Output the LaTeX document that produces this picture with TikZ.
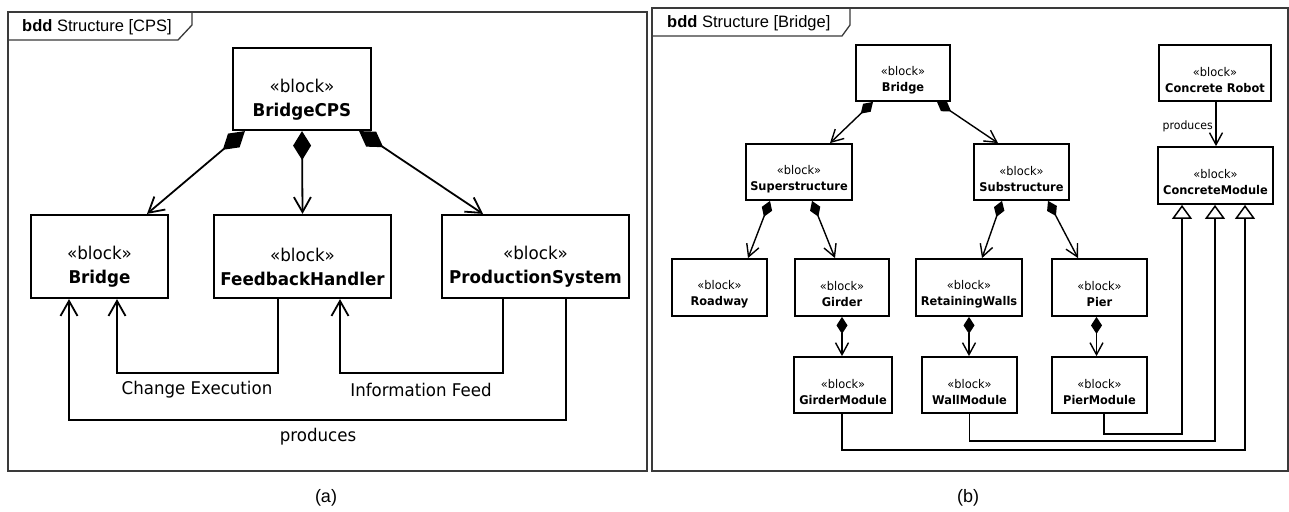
\documentclass[tikz,border=0pt]{standalone}
\usepackage{fontspec}
\setmainfont{DejaVu Sans}
\newfontfamily\blkfont[FakeStretch=0.95]{DejaVu Sans}
\newfontfamily\arialfont{Liberation Sans}
\usetikzlibrary{arrows.meta}
\definecolor{framegray}{HTML}{3A3A3A}
\tikzset{
  frameline/.style={draw=framegray, line width=1.3pt},
  titletext/.style={font=\arialfont\fontsize{16.5}{20}\selectfont, anchor=west, inner sep=0},
  captiontext/.style={font=\arialfont\fontsize{18}{22}\selectfont, inner sep=0},
  boxA/.style={draw, line width=2.2pt, inner sep=0, fill=white},
  boxB/.style={draw, line width=1.8pt, inner sep=0, fill=white},
  txtA/.style={font=\blkfont\fontsize{17.6}{24}\selectfont, align=center, inner sep=0},
  txtB/.style={font=\blkfont\fontsize{12}{16}\selectfont, align=center, inner sep=0},
  lblA/.style={font=\blkfont\fontsize{17.5}{20}\selectfont, inner sep=0},
  lblB/.style={font=\blkfont\fontsize{11.5}{14}\selectfont, inner sep=0},
  compA/.style={line width=1.8pt, {Diamond[length=29pt,width=18pt]}-{Straight Barb[length=15pt,width=17pt]}},
  navA/.style={line width=1.8pt, -{Straight Barb[length=15pt,width=17pt]}},
  compB/.style={line width=1.4pt, {Diamond[length=17pt,width=11pt]}-{Straight Barb[length=12pt,width=13pt]}},
  navB/.style={line width=1.4pt, -{Straight Barb[length=12pt,width=13pt]}},
  genB/.style={line width=1.5pt, -{Triangle[open,length=14pt,width=20pt]}},
}
\begin{document}
\begin{tikzpicture}[x=1pt,y=-1pt]
\useasboundingbox (0,0) rectangle (1289,511);
\fill[white] (0,0) rectangle (1289,511);

% ---------------- Panel (a) ----------------
\draw[frameline] (8,12) rectangle (647,471);
\draw[frameline] (8,40) -- (178,40) -- (192,25) -- (192,12);
\node[titletext] (titleA) at (22,27) {\textbf{bdd} Structure [CPS]};

\node[boxA, minimum width=138pt, minimum height=82pt] (cps) at (302,89) {};
\node[txtA] (cpsT) at ([yshift=-11pt]cps.center) {«block»\\\textbf{BridgeCPS}};

\node[boxA, minimum width=137pt, minimum height=83pt] (bridgeA) at (99.5,256.5) {};
\node[txtA] (bridgeAT) at ([yshift=-10pt]bridgeA.center) {«block»\\\textbf{Bridge}};

\node[boxA, minimum width=177pt, minimum height=83pt] (fh) at (302.5,256.5) {};
\node[txtA] (fhT) at ([yshift=-10pt]fh.center) {«block»\\\textbf{FeedbackHandler}};

\node[boxA, minimum width=187pt, minimum height=83pt] (ps) at (535.5,256.5) {};
\node[txtA] (psT) at ([yshift=-10pt]ps.center) {«block»\\\textbf{ProductionSystem}};

\draw[compA] ([xshift=13pt]cps.south west) -- ([xshift=47.5pt]bridgeA.north);
\draw[compA] (cps.south) -- (fh.north);
\draw[compA] ([xshift=-13pt]cps.south east) -- ([xshift=-52.5pt]ps.north);

\draw[navA] ([xshift=-24.5pt]fh.south) -- ++(0,74) -| ([xshift=17.5pt]bridgeA.south);
\draw[navA] ([xshift=-32.5pt]ps.south) -- ++(0,74) -| ([xshift=37.5pt]fh.south);
\draw[navA] ([xshift=30.5pt]ps.south) -- ++(0,121) -| ([xshift=-30.5pt]bridgeA.south);

\node[lblA] (lblCE) at (197,390) {Change Execution};
\node[lblA] (lblIF) at (421,390) {Information Feed};
\node[lblA] (lblPA) at (318,437) {produces};

\node[captiontext] (capA) at (326,498) {(a)};

% ---------------- Panel (b) ----------------
\draw[frameline] (652,8) rectangle (1288,471);
\draw[frameline] (652,36) -- (842,36) -- (850,25) -- (850,8);
\node[titletext] (titleB) at (667,23) {\textbf{bdd} Structure [Bridge]};

\node[boxB, minimum width=94pt, minimum height=56pt] (bridgeB) at (903,73) {};
\node[txtB] (bridgeBT) at ([yshift=-7pt]bridgeB.center) {«block»\\\textbf{Bridge}};

\node[boxB, minimum width=106pt, minimum height=56pt] (sup) at (799,172) {};
\node[txtB] (supT) at ([yshift=-7pt]sup.center) {«block»\\\textbf{Superstructure}};

\node[boxB, minimum width=95pt, minimum height=56pt] (sub) at (1021.5,172) {};
\node[txtB] (subT) at ([yshift=-7pt]sub.center) {«block»\\\textbf{Substructure}};

\node[boxB, minimum width=112pt, minimum height=56pt] (robot) at (1215,73) {};
\node[txtB] (robotT) at ([yshift=-7pt]robot.center) {«block»\\\textbf{Concrete Robot}};

\node[boxB, minimum width=115pt, minimum height=57pt] (cm) at (1215.5,175.5) {};
\node[txtB] (cmT) at ([yshift=-7pt]cm.center) {«block»\\\textbf{ConcreteModule}};

\node[boxB, minimum width=95pt, minimum height=57pt] (road) at (719.5,287.5) {};
\node[txtB] (roadT) at ([yshift=-7pt]road.center) {«block»\\\textbf{Roadway}};

\node[boxB, minimum width=94pt, minimum height=57pt] (girder) at (842,287.5) {};
\node[txtB] (girderT) at ([yshift=-7pt]girder.center) {«block»\\\textbf{Girder}};

\node[boxB, minimum width=106pt, minimum height=57pt] (rw) at (969,287.5) {};
\node[txtB] (rwT) at ([yshift=-7pt]rw.center) {«block»\\\textbf{RetainingWalls}};

\node[boxB, minimum width=95pt, minimum height=57pt] (pier) at (1099.5,287.5) {};
\node[txtB] (pierT) at ([yshift=-7pt]pier.center) {«block»\\\textbf{Pier}};

\node[boxB, minimum width=98pt, minimum height=56pt] (gm) at (843,385) {};
\node[txtB] (gmT) at ([yshift=-7pt]gm.center) {«block»\\\textbf{GirderModule}};

\node[boxB, minimum width=95pt, minimum height=56pt] (wm) at (969.5,385) {};
\node[txtB] (wmT) at ([yshift=-7pt]wm.center) {«block»\\\textbf{WallModule}};

\node[boxB, minimum width=95pt, minimum height=56pt] (pm) at (1099.5,385) {};
\node[txtB] (pmT) at ([yshift=-7pt]pm.center) {«block»\\\textbf{PierModule}};

% compositions
\draw[compB] ([xshift=-30pt]bridgeB.south) -- ([xshift=31pt]sup.north);
\draw[compB] ([xshift=34pt]bridgeB.south) -- ([xshift=-23.5pt]sub.north);
\draw[compB] ([xshift=-29pt]sup.south) -- ([xshift=28.5pt]road.north);
\draw[compB] ([xshift=13pt]sup.south) -- ([xshift=-7pt]girder.north);
\draw[compB] ([xshift=-19.5pt]sub.south) -- ([xshift=13pt]rw.north);
\draw[compB] ([xshift=26.5pt]sub.south) -- ([xshift=-21.5pt]pier.north);
\draw[compB] (girder.south) -- (girder.south |- gm.north);
\draw[compB] (rw.south) -- (rw.south |- wm.north);
\draw[compB] ([xshift=-3pt]pier.south) -- ([xshift=-3pt]pier.south |- pm.north);

% produces
\draw[navB] ([xshift=1pt]robot.south) -- ([xshift=1pt]robot.south |- cm.north);
\node[lblB, anchor=east] (lblPB) at (1213,126) {produces};

% generalizations
\draw[genB] ([xshift=4.5pt]pm.south) -- ++(0,20) -| ([xshift=-33.5pt]cm.south);
\draw[genB] (wm.south) -- ++(0,27) -| ([xshift=-0.5pt]cm.south);
\draw[genB] ([xshift=-1pt]gm.south) -- ++(0,36) -| ([xshift=29.5pt]cm.south);

\node[captiontext] (capB) at (968,498) {(b)};
\end{tikzpicture}
\end{document}
